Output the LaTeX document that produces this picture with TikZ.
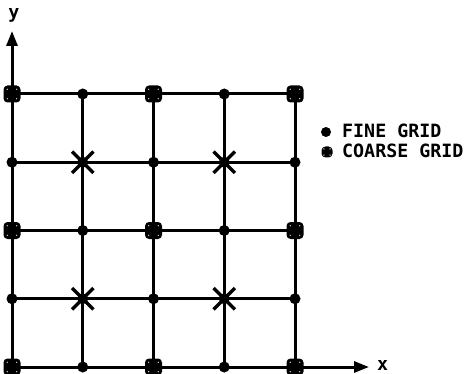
\documentclass[tikz,border=0pt]{standalone}
\usepackage{fontspec}
\setmainfont{DejaVu Sans Mono}
\usetikzlibrary{arrows.meta,shapes.misc}
\begin{document}
\begin{tikzpicture}[x=1pt,y=-1pt,
  gridline/.style={line width=3pt},
  axisline/.style={line width=3pt,-{Triangle[length=15pt,width=11pt]}},
  finedot/.style={circle,fill=black,inner sep=0pt,minimum size=11pt},
  coarsebox/.style={rectangle,rounded corners=4pt,fill=black,inner sep=0pt,minimum size=#1,
    path picture={
      \fill[white] ([xshift=-0.28*#1,yshift=-0.28*#1]path picture bounding box.center) circle (0.7pt);
      \fill[white] ([xshift=0.28*#1,yshift=-0.28*#1]path picture bounding box.center) circle (0.7pt);
      \fill[white] ([xshift=-0.28*#1,yshift=0.28*#1]path picture bounding box.center) circle (0.7pt);
      \fill[white] ([xshift=0.28*#1,yshift=0.28*#1]path picture bounding box.center) circle (0.7pt);
    }},
  starmark/.style={cross out,draw=black,line width=3.4pt,inner sep=0pt,minimum size=18pt},
  lbl/.style={inner sep=0pt,font=\fontsize{18.3}{21}\bfseries\selectfont}
]
\useasboundingbox (0,0) rectangle (471,374);
% grid coordinates
\foreach \i in {0,...,4}
  \foreach \j in {0,...,4}
    \coordinate (p\i\j) at ({12+70.75*\i},{94+68.25*\j});
\coordinate (ybot) at (12,374);
\coordinate (ytop) at (12,31);
\coordinate (xend) at (369,367);
% horizontal lines
\foreach \j in {0,...,3}
  \draw[gridline] (p0\j) -- (p4\j);
% vertical lines
\foreach \i in {1,...,4}
  \draw[gridline] (p\i0) -- (p\i4);
% axes
\draw[axisline] (ybot) -- (ytop);
\draw[axisline] (p04) -- (xend);
\node[lbl] (ylab) at (14,15) {y};
\node[lbl,anchor=west] (xlab) at (377,365) {x};
% star marks
\foreach \i in {1,3}
  \foreach \j in {1,3}
    \node[starmark] (s\i\j) at (p\i\j) {};
% fine dots
\foreach \i in {0,...,4}
  \foreach \j in {0,...,4}
    \node[finedot] (f\i\j) at (p\i\j) {};
% coarse boxes
\foreach \i in {0,2,4}
  \foreach \j in {0,2,4}
    \node[coarsebox=17pt] (c\i\j) at (p\i\j) {};
% legend
\node[finedot,minimum size=10pt] (legdot) at (326,132) {};
\node[lbl,anchor=west] (legfine) at (342,131) {FINE GRID};
\node[coarsebox=11pt] (legbox) at (327,152) {};
\node[lbl,anchor=west] (legcoarse) at (342,151) {COARSE GRID};
\end{tikzpicture}
\end{document}
